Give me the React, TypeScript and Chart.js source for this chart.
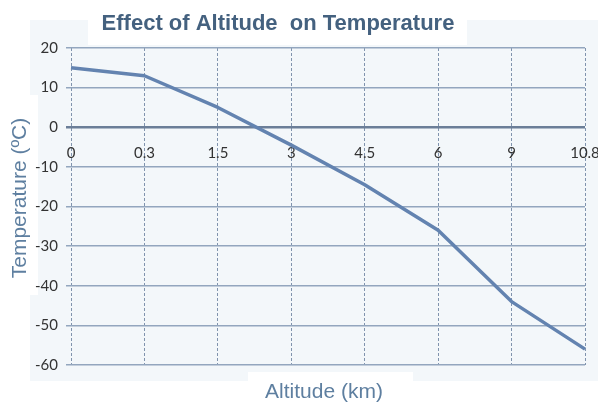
import React, { useEffect, useRef } from 'react';
import { Chart, registerables } from 'chart.js';

Chart.register(...registerables);

const chartTitle = 'Effect of Altitude  on Temperature';
const xAxisTitle = 'Altitude (km)';
const yAxisTitle = 'Temperature (ºC)';
const altitudeLabels = ['0', '0.3', '1.5', '3', '4.5', '6', '9', '10.8'];
const temperatureValues = [15, 13, 5, -4.5, -14.5, -26, -44, -56];
const yTickMin = -60;
const yTickMax = 20;
const yTickStep = 10;

const decorPlugin = {
  id: 'excelDecor',
  beforeDraw(chart: any) {
    const { ctx, width, height } = chart;
    ctx.save();
    ctx.fillStyle = '#ffffff';
    ctx.fillRect(0, 0, width, height);
    ctx.fillStyle = '#f3f7fa';
    ctx.fillRect(30, 20, width - 30, 361);
    ctx.fillStyle = '#ffffff';
    ctx.fillRect(88, 0, 379, 45);
    ctx.fillRect(0, 95, 38, 200);
    ctx.fillRect(248, 372, 165, height - 372);
    ctx.restore();
  },
  afterDraw(chart: any) {
    const { ctx } = chart;
    ctx.save();
    ctx.fillStyle = '#44617f';
    ctx.font = 'bold 22px "Liberation Sans", Arial, sans-serif';
    ctx.textAlign = 'center';
    ctx.textBaseline = 'alphabetic';
    ctx.fillText(chartTitle, 278, 30);
    ctx.fillStyle = '#5e7fa0';
    ctx.font = '21px "Liberation Sans", Arial, sans-serif';
    ctx.textBaseline = 'middle';
    ctx.fillText(xAxisTitle, 324, 392);
    ctx.translate(20, 198);
    ctx.rotate(-Math.PI / 2);
    ctx.fillText(yAxisTitle, 0, 0);
    ctx.restore();
  },
};

export default function App() {
  const ref = useRef<HTMLCanvasElement>(null);
  useEffect(() => {
    if (!ref.current) return;
    const chart = new Chart(ref.current, {
      type: 'line',
      data: {
        labels: altitudeLabels,
        datasets: [
          {
            label: 'Temperature',
            data: temperatureValues,
            borderColor: '#6383b0',
            borderWidth: 3.5,
            pointRadius: 0,
            fill: false,
            tension: 0,
            borderJoinStyle: 'round',
          },
        ],
      },
      options: {
        animation: false,
        responsive: false,
        layout: { padding: { left: 0, top: 48, right: 13, bottom: 41 } },
        plugins: {
          legend: { display: false },
          title: { display: false },
          tooltip: { enabled: false },
        },
        scales: {
          x: {
            type: 'category',
            position: { y: 0 } as any,
            offset: false,
            grid: { color: '#8093ad', lineWidth: 1, drawTicks: false, offset: false },
            border: { display: false, dash: [3, 2] },
            ticks: {
              color: '#333333',
              font: { family: 'Lato', size: 15 },
              padding: 17,
              maxRotation: 0,
              autoSkip: false,
            },
            afterFit: (s: any) => {
              s.paddingLeft = 0;
              s.paddingRight = 0;
            },
          },
          y: {
            min: yTickMin,
            max: yTickMax,
            ticks: {
              stepSize: yTickStep,
              color: '#333333',
              font: { family: 'Lato', size: 15 },
              padding: 8,
            },
            grid: {
              color: (c: any) => (c.tick && c.tick.value === 0 ? '#6b7e98' : '#93a6be'),
              lineWidth: (c: any) => (c.tick && c.tick.value === 0 ? 2.5 : 1.5),
              tickLength: 5,
              tickColor: (c: any) => (c.tick && c.tick.value === 0 ? '#6b7e98' : '#93a6be'),
            },
            border: { display: false },
            afterFit: (s: any) => {
              s.width = 71;
            },
          },
        },
      },
      plugins: [decorPlugin],
    } as any);
    return () => chart.destroy();
  }, []);
  return (
    <div style={{ position: 'fixed', left: 0, top: 0, width: 598, height: 406 }}>
      <canvas ref={ref} width={598} height={406} style={{ display: 'block' }} />
    </div>
  );
}
